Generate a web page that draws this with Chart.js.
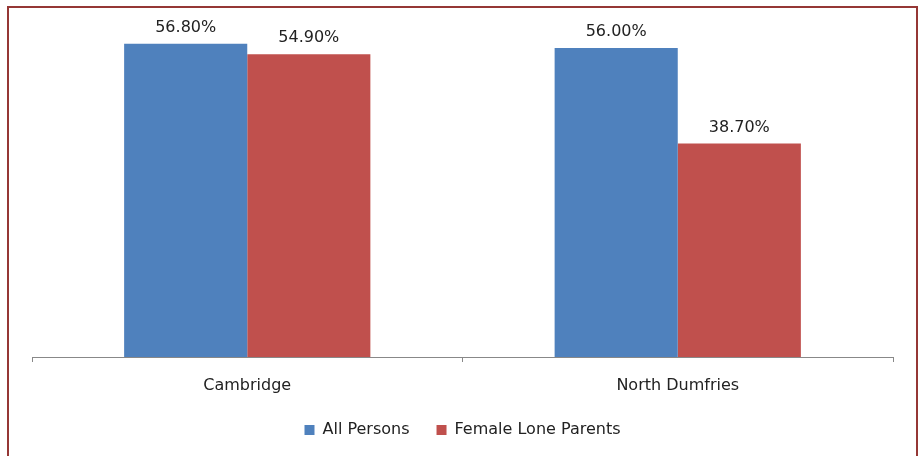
<!DOCTYPE html>
<html>
<head>
<meta charset="utf-8">
<script src="https://cdn.jsdelivr.net/npm/chart.js@4.4.1/dist/chart.umd.min.js"></script>
<style>
  body { margin: 0; background: #fff; }
  #wrap { position: relative; width: 919px; height: 456px; }
  #frame {
    position: absolute; left: 7px; top: 6px; width: 911px; height: 470px;
    border: 2px solid #953735; box-sizing: border-box; pointer-events: none;
  }
</style>
</head>
<body>
<div id="wrap">
  <canvas id="chart" width="919" height="456"></canvas>
  <div id="frame"></div>
</div>
<script>
// Chart data
const categories = ['Cambridge', 'North Dumfries'];
const allPersons = [56.8, 56.0];
const femaleLoneParents = [54.9, 38.7];
const seriesNames = ['All Persons', 'Female Lone Parents'];

const fontName = 'DejaVu Sans';

// Plugin to write the value labels above each bar
const valueLabels = {
    id: 'valueLabels',
    afterDatasetsDraw(chart) {
        const ctx = chart.ctx;
        ctx.save();
        ctx.font = '16px "' + fontName + '", sans-serif';
        ctx.fillStyle = '#222';
        ctx.textAlign = 'center';
        ctx.textBaseline = 'alphabetic';
        chart.data.datasets.forEach((ds, i) => {
            chart.getDatasetMeta(i).data.forEach((bar, j) => {
                ctx.fillText(ds.data[j].toFixed(2) + '%', bar.x, bar.y - 12);
            });
        });
        ctx.restore();
    }
};

const ctx = document.getElementById('chart').getContext('2d');
new Chart(ctx, {
    type: 'bar',
    data: {
        labels: categories,
        datasets: [{
            label: seriesNames[0],
            data: allPersons,
            backgroundColor: '#4F81BD'
        }, {
            label: seriesNames[1],
            data: femaleLoneParents,
            backgroundColor: '#C0504D'
        }]
    },
    options: {
        responsive: false,
        animation: false,
        layout: { padding: { left: 32, right: 26, top: 26, bottom: 8 } },
        datasets: {
            bar: { categoryPercentage: 0.572, barPercentage: 1.0 }
        },
        scales: {
            x: {
                grid: { display: true, drawOnChartArea: false, offset: true, tickLength: 5, color: '#888' },
                border: { color: '#888' },
                ticks: { color: '#222', font: { family: fontName, size: 16 }, padding: 14 },
                // keep the axis box short so the plot reaches further down
                afterFit(scale) { scale.height = 38; }
            },
            y: {
                display: false,
                min: 0,
                max: 60
            }
        },
        plugins: {
            legend: {
                position: 'bottom',
                labels: {
                    boxWidth: 10, boxHeight: 10, padding: 27,
                    color: '#222', font: { family: fontName, size: 16 }
                }
            },
            tooltip: { enabled: false }
        }
    },
    plugins: [valueLabels]
});
</script>
</body>
</html>
